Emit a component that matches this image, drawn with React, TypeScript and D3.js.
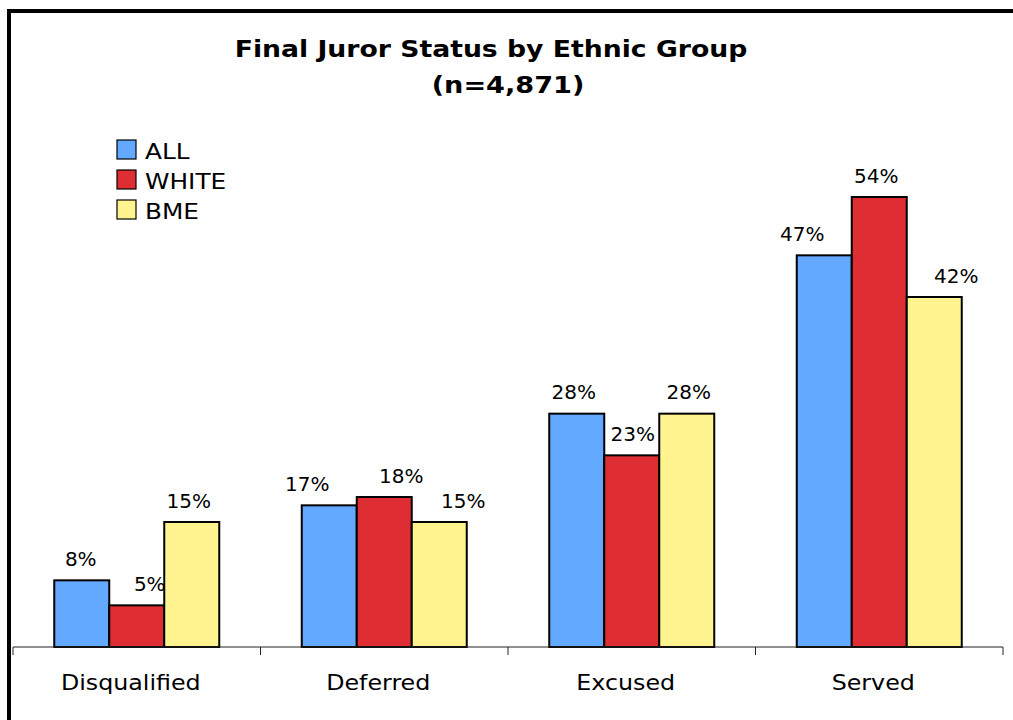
import React from "react";
import * as d3 from "d3";

const categories = ["Disqualified", "Deferred", "Excused", "Served"];
const seriesNames = ["ALL", "WHITE", "BME"];
const allValues = [8, 17, 28, 47];
const whiteValues = [5, 18, 23, 54];
const bmeValues = [15, 15, 28, 42];
const seriesColors = ["#63a9ff", "#de2e33", "#fff48f"];
const titleLines = ["Final Juror Status by Ethnic Group", "(n=4,871)"];

// horizontal nudges (px) for value labels, per series then category, to keep them clear of neighbours
const labelShift = [
  [-1, -22, -3, -22],
  [13, 17, 1, -3],
  [-3, 24, 2, 22],
];

const W = 1013;
const H = 720;
const FONT = "'DejaVu Sans', Verdana, sans-serif";

export default function App() {
  const seriesValues = [allValues, whiteValues, bmeValues];
  const x0 = d3.scaleBand<string>().domain(categories).range([13, 1003]).paddingInner(0).paddingOuter(0);
  const bw = x0.bandwidth();
  const x1 = d3.scaleBand<string>().domain(seriesNames).range([bw / 6, (bw * 5) / 6]);
  const y = d3.scaleLinear().domain([0, 60]).range([647, 147]);
  const baseY = y(0);
  const ticks = [...categories.map((c) => x0(c) as number), 1003];

  return (
    <svg width={W} height={H} style={{ position: "absolute", left: 0, top: 0, background: "#fff" }}>
      <rect x={0} y={0} width={W} height={H} fill="#fff" />
      {/* chart frame, open to the right and bottom */}
      <rect x={9} y={11} width={W + 20} height={H + 20} fill="none" stroke="#000" strokeWidth={4} />

      {/* title */}
      <g fontFamily={FONT} fontWeight="bold" fill="#000">
        <text transform="translate(491,57) scale(1.16,1)" textAnchor="middle" fontSize={23}>
          {titleLines[0]}
        </text>
        <text transform="translate(508,93) scale(1.18,1)" textAnchor="middle" fontSize={23}>
          {titleLines[1]}
        </text>
      </g>

      {/* legend */}
      <g fontFamily={FONT} fontSize={21}>
        {seriesNames.map((s, i) => (
          <g key={s} transform={`translate(117,${140 + i * 30})`}>
            <rect x={0} y={0} width={19} height={19} fill={seriesColors[i]} stroke="#000" strokeWidth={1.2} />
            <text transform="translate(28,19) scale(1.18,1)" fill="#000">
              {s}
            </text>
          </g>
        ))}
      </g>

      {/* bars */}
      {categories.map((c, ci) => (
        <g key={c} transform={`translate(${x0(c)},0)`}>
          {seriesNames.map((s, si) => {
            const v = seriesValues[si][ci];
            const bx = x1(s) as number;
            return (
              <rect
                key={s}
                x={bx}
                y={y(v)}
                width={x1.bandwidth()}
                height={baseY - y(v)}
                fill={seriesColors[si]}
                stroke="#000"
                strokeWidth={2}
              />
            );
          })}
        </g>
      ))}

      {/* value labels */}
      <g fontFamily={FONT} fontSize={20} fill="#000" textAnchor="middle">
        {categories.map((c, ci) =>
          seriesNames.map((s, si) => {
            const v = seriesValues[si][ci];
            const cx = (x0(c) as number) + (x1(s) as number) + x1.bandwidth() / 2 + labelShift[si][ci];
            return (
              <text key={c + s} x={cx} y={y(v) - 14.5}>
                {`${v}%`}
              </text>
            );
          })
        )}
      </g>

      {/* category axis */}
      <line x1={13} x2={1003} y1={baseY} y2={baseY} stroke="#222" strokeWidth={1} />
      {ticks.map((t, i) => (
        <line key={i} x1={t} x2={t} y1={baseY} y2={baseY + 8} stroke="#222" strokeWidth={1} />
      ))}
      <g fontFamily={FONT} fontSize={22} fill="#000" textAnchor="middle">
        {categories.map((c) => (
          <text key={c} transform={`translate(${(x0(c) as number) + bw / 2 - 6},690) scale(1.08,1)`}>
            {c}
          </text>
        ))}
      </g>
    </svg>
  );
}
